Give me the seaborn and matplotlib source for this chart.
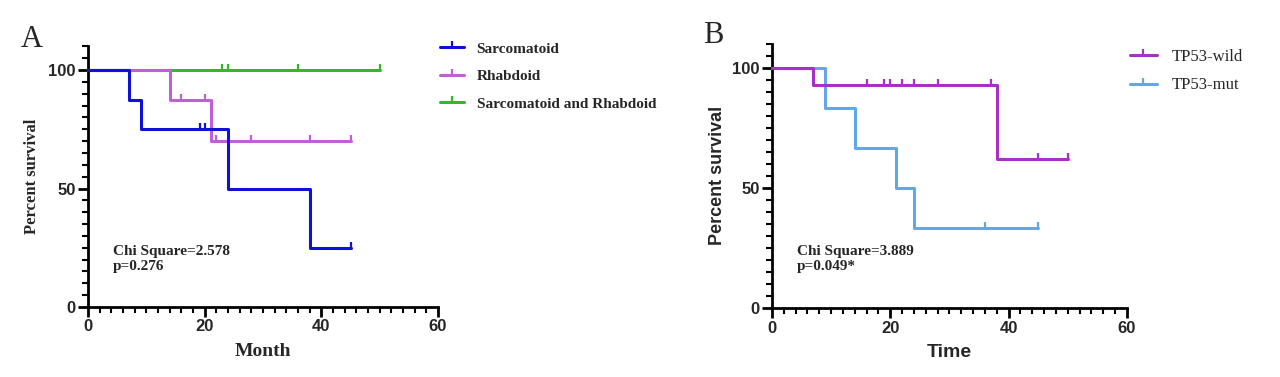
import matplotlib
matplotlib.use("Agg")
import matplotlib.pyplot as plt
from matplotlib.lines import Line2D
from matplotlib.ticker import MultipleLocator
import seaborn as sns
import pandas as pd

# ---------------- data ----------------
# Panel A (Month)
sarc_t = [0, 7, 9, 24, 38, 45]
sarc_s = [100, 87.5, 75, 50, 25, 25]
sarc_cens_t = [19.2, 20, 45]
sarc_cens_s = [75, 75, 25]

rhab_t = [0, 14, 21, 45]
rhab_s = [100, 87.5, 70, 70]
rhab_cens_t = [16, 20, 22, 28, 38, 45]
rhab_cens_s = [87.5, 87.5, 70, 70, 70, 70]

both_t = [0, 50]
both_s = [100, 100]
both_cens_t = [23, 24, 36, 50]
both_cens_s = [100, 100, 100, 100]

labels_a = ["Sarcomatoid", "Rhabdoid", "Sarcomatoid and Rhabdoid"]
colors_a = ["#1010d8", "#c060d8", "#30b830"]

# Panel B (Time)
wild_t = [0, 7, 38, 50]
wild_s = [100, 92.9, 61.9, 61.9]
wild_cens_t = [16, 19, 20, 22, 24, 28, 37, 45, 50]
wild_cens_s = [92.9] * 7 + [61.9] * 2

mut_t = [0, 9, 14, 21, 24, 45]
mut_s = [100, 83.3, 66.7, 50, 33.3, 33.3]
mut_cens_t = [36, 45]
mut_cens_s = [33.3, 33.3]

labels_b = ["TP53-wild", "TP53-mut"]
colors_b = ["#a830c8", "#60a8e8"]

stats_a = "Chi Square=2.578\np=0.276"
stats_b = "Chi Square=3.889\np=0.049*"

# ---------------- style ----------------
sns.set_theme(style="ticks")
plt.rcParams["font.family"] = ["Liberation Sans", "DejaVu Sans"]

fig = plt.figure(figsize=(12.8, 3.77), dpi=100)
axA = fig.add_axes([0.0688, 0.1857, 0.2734, 0.6913])
axB = fig.add_axes([0.6031, 0.1830, 0.2773, 0.7010])

serif = ["Liberation Serif", "DejaVu Serif"]
sans = ["Liberation Sans", "DejaVu Sans"]


def km(ax, t, s, ct, cs, color, z):
    sns.lineplot(x=t, y=s, ax=ax, color=color, lw=2.2, drawstyle="steps-post",
                 estimator=None, sort=False, zorder=z, clip_on=False)
    sns.lineplot(x=ct, y=cs, ax=ax, color=color, lw=0, linestyle="none",
                 marker=2, markersize=4, markeredgewidth=1.6,
                 markeredgecolor=color, markerfacecolor=color,
                 estimator=None, sort=False, zorder=z + 0.5, clip_on=False)


def style_axes(ax):
    ax.set_xlim(0, 60)
    ax.set_ylim(0, 110)
    ax.xaxis.set_major_locator(MultipleLocator(20))
    ax.xaxis.set_minor_locator(MultipleLocator(2))
    ax.set_yticks([0, 50, 100])
    ax.yaxis.set_minor_locator(MultipleLocator(5))
    sns.despine(ax=ax)
    for sp in ("left", "bottom"):
        ax.spines[sp].set_linewidth(2)
        ax.spines[sp].set_color("black")
    ax.tick_params(which="major", length=7, width=2, color="black",
                   labelsize=12, pad=2)
    ax.tick_params(which="minor", length=4, width=1.5, color="black")
    for lab in ax.get_xticklabels() + ax.get_yticklabels():
        lab.set_fontweight("bold")
        lab.set_family(sans)


# Panel A
km(axA, both_t, both_s, both_cens_t, both_cens_s, colors_a[2], 2)
km(axA, rhab_t, rhab_s, rhab_cens_t, rhab_cens_s, colors_a[1], 3)
km(axA, sarc_t, sarc_s, sarc_cens_t, sarc_cens_s, colors_a[0], 4)
style_axes(axA)
axA.set_xlabel("Month", family=serif, fontweight="bold", fontsize=14, labelpad=6)
axA.set_ylabel("Percent survival", family=serif, fontweight="bold", fontsize=12, labelpad=6)
axA.text(4.2, 20.3, stats_a, family=serif, fontweight="bold", fontsize=11,
         va="center", ha="left", linespacing=1.25)
hA = [Line2D([], [], color=c, lw=2.2, marker=2, markersize=4, markeredgewidth=1.6)
      for c in colors_a]
fig.legend(hA, labels_a, loc="upper left", bbox_to_anchor=(0.333, 0.925),
           frameon=False, prop={"family": serif, "weight": "bold", "size": 11},
           handlelength=1.6, labelspacing=0.9, handletextpad=0.8)

# Panel B
km(axB, mut_t, mut_s, mut_cens_t, mut_cens_s, colors_b[1], 3)
km(axB, wild_t, wild_s, wild_cens_t, wild_cens_s, colors_b[0], 4)
style_axes(axB)
axB.set_xlabel("Time", family=sans, fontweight="bold", fontsize=14, labelpad=6)
axB.set_ylabel("Percent survival", family=sans, fontweight="bold", fontsize=13, labelpad=4)
axB.text(4.2, 20.4, stats_b, family=serif, fontweight="bold", fontsize=11,
         va="center", ha="left", linespacing=1.25)
hB = [Line2D([], [], color=c, lw=2.2, marker=2, markersize=4, markeredgewidth=1.6)
      for c in colors_b]
fig.legend(hB, labels_b, loc="upper left", bbox_to_anchor=(0.871, 0.91),
           frameon=False, prop={"family": serif, "size": 12},
           handlelength=1.6, labelspacing=0.75, handletextpad=0.9)

# Panel letters
fig.text(0.016, 0.935, "A", family=serif, fontsize=22, va="top", ha="left")
fig.text(0.549, 0.945, "B", family=serif, fontsize=22, va="top", ha="left")

fig.savefig("out.png", dpi=100, facecolor="white")
